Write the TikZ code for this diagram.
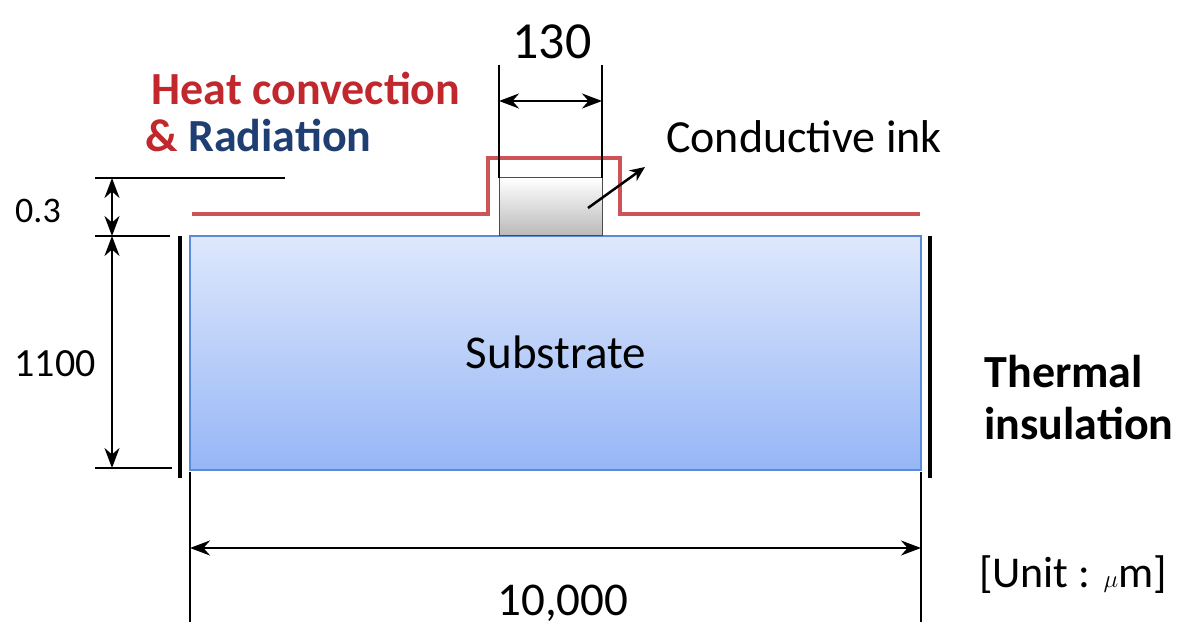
\documentclass[tikz,border=0pt]{standalone}
\usepackage{fontspec}
\setmainfont{Carlito}
\usetikzlibrary{arrows.meta}
\definecolor{hred}{HTML}{C0282D}
\definecolor{hblue}{HTML}{1F3F73}
\definecolor{sbord}{HTML}{5B8BD8}
\tikzset{
  dim/.style={line width=2.2pt,{Stealth[length=20pt,width=15pt]}-{Stealth[length=20pt,width=15pt]}},
  ext/.style={line width=1.2pt},
  ins/.style={line width=4pt},
  lbl/.style={font=\fontsize{40}{44}\selectfont},
  big/.style={font=\fontsize{48}{52}\selectfont},
  bold/.style={font=\fontsize{46}{50}\selectfont\bfseries}
}
\begin{document}
\begin{tikzpicture}[x=1pt,y=-1pt]
\useasboundingbox (0,0) rectangle (1197,644);
% substrate
\shade[top color={rgb,255:red,222;green,232;blue,252},bottom color={rgb,255:red,150;green,182;blue,246}] (190,236) rectangle (921,470);
\draw[sbord,line width=1.5pt] (190,236) rectangle (921,470);
\node[big,font=\fontsize{47}{50}\selectfont] (sub) at (556,352) {Substrate};
% ink
\shade[top color=white,bottom color=gray!55] (499,178) rectangle (602,236);
\draw[black!70,line width=1pt] (499,178) rectangle (602,236);
% red boundary
\draw[hred!80!white,line width=3.5pt] (192,214) -- (488,214) -- (488,158) -- (620,158) -- (620,214) -- (920,214);
% insulation
\draw[ins] (180,236) -- (180,478);
\draw[ins] (930,236) -- (930,478);
% left dims
\draw[ext] (95,178) -- (285,178);
\draw[ext] (95,236) -- (170,236);
\draw[ext] (95,468) -- (172,468);
\coordinate (l1) at (112,178); \coordinate (l2) at (112,236); \coordinate (l3) at (112,468);
\draw[dim] (l1) -- (l2);
\draw[dim] (l2) -- (l3);
\node[lbl,font=\fontsize{36}{40}\selectfont] (d03) at (38,211) {0.3};
\node[lbl] (d1100) at (55,364) {1100};
% top dims
\draw[ext] (499,65) -- (499,178);
\draw[ext] (602,65) -- (602,178);
\coordinate (t1) at (499,101); \coordinate (t2) at (602,101);
\draw[dim] (t1) -- (t2);
\node[big,font=\fontsize{52}{56}\selectfont] (d130) at (552,42) {130};
% bottom dims
\draw[ext] (190,472) -- (190,622);
\draw[ext] (921,472) -- (921,622);
\coordinate (b1) at (190,548); \coordinate (b2) at (921,548);
\draw[dim] (b1) -- (b2);
\node[big,font=\fontsize{47}{50}\selectfont] (d10k) at (563,603) {10,000};
\node[lbl,font=\fontsize{44}{48}\selectfont] (unit) at (1073,575) {[Unit : $\mu$m]};
% labels
\node[bold,text=hred] (heat) at (306,88) {Heat convection};
\node[bold,anchor=west] (rad) at (142,135) {\textcolor{hred}{\&} \textcolor{hblue}{Radiation}};
\node[lbl,font=\fontsize{46}{50}\selectfont] (ink) at (804,137) {Conductive ink};
\coordinate (a1) at (588,208); \coordinate (a2) at (645,167);
\draw[line width=2.5pt,-{Stealth[length=15pt,width=13pt]}] (a1) -- (a2);
\node[align=left,font=\fontsize{46}{52}\selectfont\bfseries] (therm) at (1079,398) {Thermal\\insulation};
\end{tikzpicture}
\end{document}
